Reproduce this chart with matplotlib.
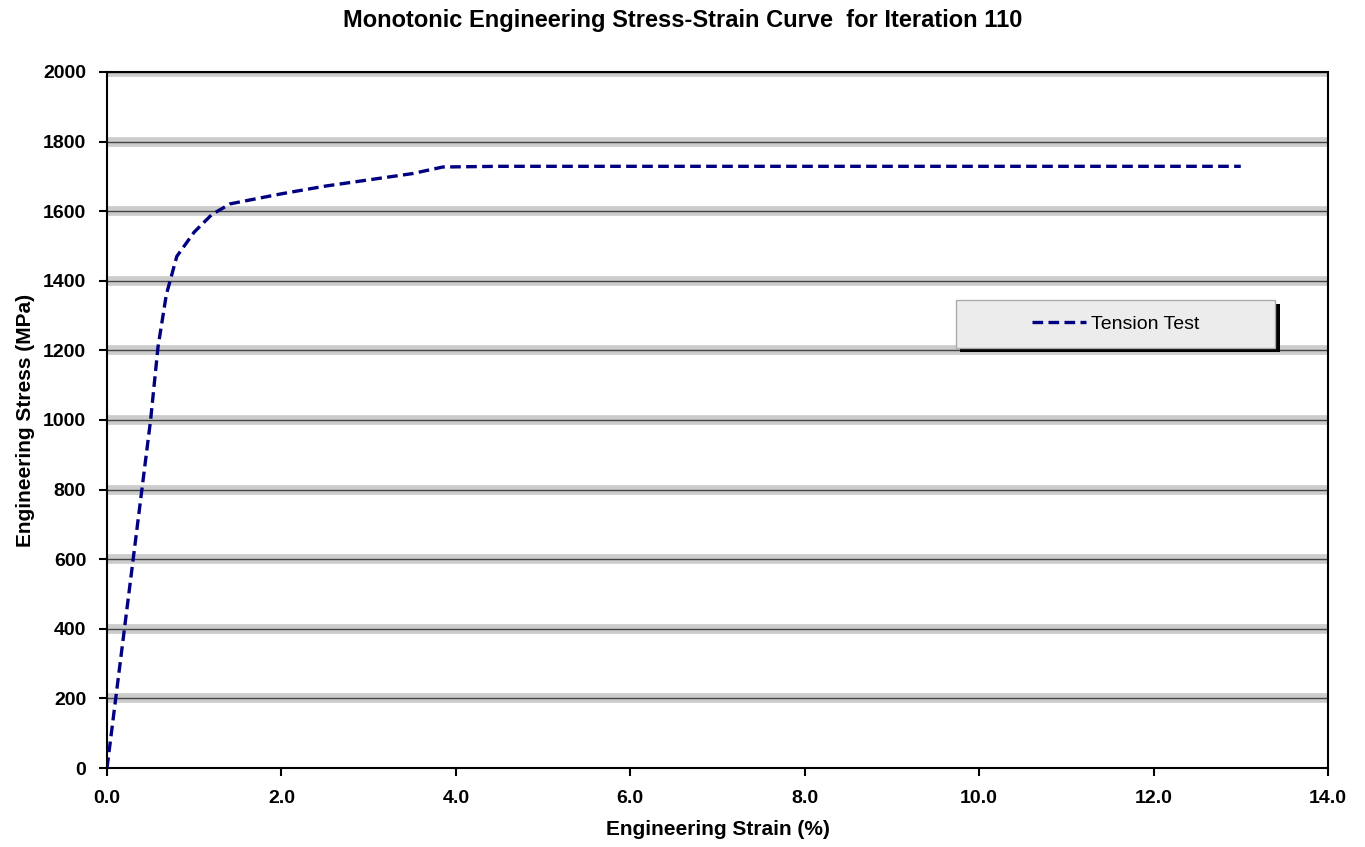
import matplotlib
matplotlib.use("Agg")
import matplotlib.pyplot as plt
from matplotlib.patches import Rectangle

strain = [0.0, 0.1, 0.2, 0.3, 0.4, 0.5, 0.585, 0.68, 0.8, 1.0, 1.2, 1.41,
          2.0, 2.5, 3.0, 3.5, 3.85, 4.5, 13.0]
stress = [0, 200, 400, 600, 800, 1000, 1210, 1360, 1470, 1540, 1590, 1621,
          1650, 1672, 1690, 1708, 1727, 1729, 1729]
xticks = [0, 2, 4, 6, 8, 10, 12, 14]
yticks = [0, 200, 400, 600, 800, 1000, 1200, 1400, 1600, 1800, 2000]

plt.rcParams['font.family'] = ['Liberation Sans', 'DejaVu Sans']

fig = plt.figure(figsize=(13.65, 8.47), dpi=100)
ax = fig.add_axes([107/1365, 1-768/847, 1221/1365, 696/847])

for y in yticks[1:]:
    ax.axhline(y, color='#cccccc', lw=7, zorder=1)
    ax.axhline(y, color='#444444', lw=1, zorder=1.5)

ax.plot(strain, stress, color='#000080', lw=2.4, ls=(0, (3.2, 1.6)),
        label='Tension Test', zorder=3)

ax.set_xlim(0, 14)
ax.set_ylim(0, 2000)
ax.set_xticks(xticks)
ax.set_xticklabels([f"{v:.1f}" for v in xticks], fontweight='bold', fontsize=14)
ax.set_yticks(yticks)
ax.set_yticklabels([str(v) for v in yticks], fontweight='bold', fontsize=14)
ax.tick_params(axis='x', direction='out', length=6, width=1.5, pad=10)
ax.tick_params(axis='y', direction='out', length=6, width=1.5, pad=9)
for s in ax.spines.values():
    s.set_linewidth(1.5)
    s.set_color('black')

ax.set_xlabel('Engineering Strain (%)', fontweight='bold', fontsize=15, labelpad=9)
ax.set_ylabel('Engineering Stress (MPa)', fontweight='bold', fontsize=15, labelpad=6)
fig.suptitle('Monotonic Engineering Stress-Strain Curve  for Iteration 110',
             fontweight='bold', fontsize=17, y=1-21/847, va='center')

# legend box (frame + shadow) drawn separately, legend entries centered inside
bx, by, bw, bh = 0.695, 0.603, 0.262, 0.070
ax.add_patch(Rectangle((bx + 0.004, by - 0.006), bw, bh, transform=ax.transAxes,
                       facecolor='black', edgecolor='none', zorder=4))
ax.add_patch(Rectangle((bx, by), bw, bh, transform=ax.transAxes,
                       facecolor='#ececec', edgecolor='#aaaaaa', lw=1, zorder=4.5))
leg = ax.legend(loc='center', bbox_to_anchor=(bx + bw / 2, by + bh / 2),
                fontsize=14, frameon=False, handlelength=2.8,
                handletextpad=0.25, borderpad=0.2)
leg.set_zorder(5)

fig.savefig('out.png', dpi=100)
